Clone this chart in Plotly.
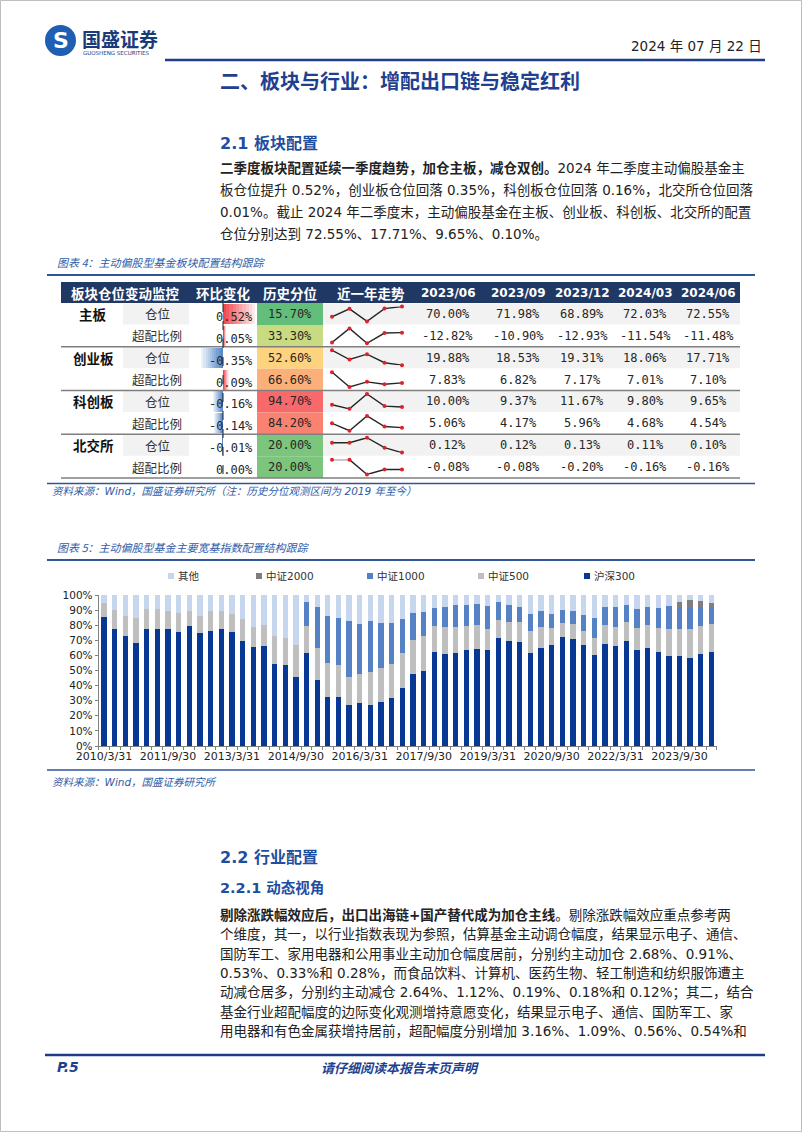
import plotly.graph_objects as go

W, H = 802, 1132
CJK = "Noto Sans CJK SC"
LAT = "DejaVu Sans, Noto Sans CJK SC"
MONO = "DejaVu Sans Mono, Noto Sans CJK SC"
NAVY = "#1F3C88"
BLUE = "#2E5CA8"
TXT = "#222222"

# ---------------- chart 5 data (quarterly, % of holdings) ----------------
quarters = [f"{y}/{md}" for y in range(2010, 2025) for md in ("3/31", "6/30", "9/30", "12/31")][:58]
tick_labels = ["2010/3/31", "2011/9/30", "2013/3/31", "2014/9/30", "2016/3/31",
               "2017/9/30", "2019/3/31", "2020/9/30", "2022/3/31", "2023/9/30"]
hs300 = [85.2, 77.3, 72.6, 68.4, 77.3, 77.7, 77.7, 75.5, 79.2, 75.1, 76.4, 77.7, 75.5, 69.8, 65.8, 66.0, 54.3, 53.4, 45.7,
         61.4, 43.9, 32.5, 32.5, 26.9, 28.5, 27.4, 29.1, 31.6, 38.4, 47.5, 49.7, 62.5, 60.9, 61.6, 63.4, 64.5, 63.4, 71.5, 69.5,
         68.9, 61.4, 64.7, 66.7, 72.0, 70.6, 66.7, 60.3, 67.3, 66.0, 69.5, 63.8, 65.1, 62.5, 59.4, 59.8, 58.3, 61.1, 62.3]
zz500 = [9.3, 12.7, 13.7, 16.1, 13.4, 13.0, 11.7, 12.4, 10.4, 11.2, 12.8, 11.5, 11.9, 14.3, 13.0, 14.4, 18.8, 17.9, 21.2,
         18.1, 21.2, 22.7, 20.9, 18.6, 19.0, 21.4, 22.3, 22.9, 23.2, 22.7, 23.4, 16.7, 17.7, 17.0, 16.1, 15.4, 14.3, 11.7, 12.6,
         13.0, 14.8, 14.3, 11.7, 9.7, 10.2, 9.5, 11.2, 12.6, 12.8, 12.4, 14.3, 15.3, 15.6, 17.9, 17.5, 19.0, 18.1, 18.7]
zz1000 = [0, 0, 0, 0, 0, 0, 0, 0, 0, 0, 0, 0, 0, 0, 0, 0, 0, 0, 0,
          15.6, 26.7, 30.9, 31.6, 37.3, 33.5, 34.0, 30.3, 27.2, 22.5, 18.1, 15.9, 12.2, 13.4, 15.0, 13.7, 14.1, 14.8, 11.9, 11.6,
          9.9, 11.2, 10.2, 9.0, 8.4, 8.4, 10.3, 13.3, 11.9, 13.0, 11.3, 12.8, 11.9, 13.1, 15.2, 14.3, 14.1, 12.6, 10.8]
zz2000 = [0, 0, 0, 0, 0, 0, 0, 0, 0, 0, 0, 0, 0, 0, 0, 0, 0, 0, 0,
          0, 0, 0, 0, 0, 0, 0, 0, 0, 0, 0, 0, 0, 0, 0, 0, 0, 0, 0, 0,
          0, 0, 0, 0, 0, 0, 0, 0, 0, 0, 0, 0, 0, 0, 0, 4.0, 5.3, 4.2, 3.1]
other = [5.5, 10.0, 13.7, 15.5, 9.3, 9.3, 10.6, 12.1, 10.4, 13.7, 10.8, 10.8, 12.6, 15.9, 21.2, 19.6, 26.9, 28.7, 33.1,
         4.9, 8.2, 13.9, 15.0, 17.2, 19.0, 17.2, 18.3, 18.3, 15.9, 11.7, 11.0, 8.6, 8.0, 6.4, 6.8, 6.0, 7.5, 4.9, 6.3,
         8.2, 12.6, 10.8, 12.6, 9.9, 10.8, 13.5, 15.2, 8.2, 8.2, 6.8, 9.1, 7.7, 8.8, 7.5, 4.4, 3.3, 4.0, 5.1]

# ---------------- table (chart 4) data ----------------
boards = ["主板", "创业板", "科创板", "北交所"]
metrics = ["仓位", "超配比例"]
periods = ["2023/06", "2023/09", "2023/12", "2024/03", "2024/06"]
qoq_change = [0.52, 0.05, -0.35, 0.09, -0.16, -0.14, -0.01, 0.00]
hist_pct = [15.70, 33.30, 52.60, 66.60, 94.70, 84.20, 20.00, 20.00]
row_values = [
    [70.00, 71.98, 68.89, 72.03, 72.55],
    [-12.82, -10.90, -12.93, -11.54, -11.48],
    [19.88, 18.53, 19.31, 18.06, 17.71],
    [7.83, 6.82, 7.17, 7.01, 7.10],
    [10.00, 9.37, 11.67, 9.80, 9.65],
    [5.06, 4.17, 5.96, 4.68, 4.54],
    [0.12, 0.12, 0.13, 0.11, 0.10],
    [-0.08, -0.08, -0.20, -0.16, -0.16],
]
pct_colors = ["#63BE7B", "#C8DB81", "#FED37F", "#FCB079", "#F8696B", "#F98370", "#7CC57C", "#7CC57C"]


def px(x):
    return x / W


def py(y):
    return 1 - y / H


shapes = []
annos = []


def rect(x0, y0, x1, y1, fill, layer="below", line_color=None, lw=0):
    shapes.append(dict(type="rect", xref="paper", yref="paper", x0=px(x0), x1=px(x1), y0=py(y1), y1=py(y0),
                       fillcolor=fill, line=dict(width=lw, color=line_color or fill), layer=layer))


def hline(x0, x1, y, color, width, layer="above"):
    shapes.append(dict(type="line", xref="paper", yref="paper", x0=px(x0), x1=px(x1), y0=py(y), y1=py(y),
                       line=dict(color=color, width=width), layer=layer))


def text(x, y, s, size, color=TXT, anchor="left", family=CJK):
    annos.append(dict(text=s, x=px(x), y=py(y), xref="paper", yref="paper", xanchor=anchor, yanchor="middle",
                      showarrow=False, font=dict(size=size, color=color, family=family)))


fig = go.Figure()

# ---------- main stacked bar chart ----------
xi = list(range(len(quarters)))
series = [("沪深300", hs300, "#083896"), ("中证500", zz500, "#BFBFBF"), ("中证1000", zz1000, "#5482C4"),
          ("中证2000", zz2000, "#7F7F7F"), ("其他", other, "#C6D6EE")]
for name, vals, col in series:
    fig.add_trace(go.Bar(x=xi, y=vals, name=name, width=0.5, marker=dict(color=col, line=dict(width=0)),
                         customdata=quarters, hovertemplate="%{customdata} " + name + ": %{y:.1f}%<extra></extra>",
                         showlegend=False, xaxis="x", yaxis="y"))

layout_axes = {}
layout_axes["xaxis"] = dict(domain=[px(98.7), px(716.8)], range=[-0.5, 57.5], anchor="y", automargin=False,
                            tickvals=[quarters.index(t) for t in tick_labels], ticktext=tick_labels,
                            ticks="", showline=True, linecolor="#808080", linewidth=1, showgrid=False, zeroline=False,
                            tickfont=dict(size=11, color=TXT, family=LAT),
                            minor=dict(ticks="outside", tick0=-0.5, dtick=1, ticklen=3, tickcolor="#808080",
                                       showgrid=False))
layout_axes["yaxis"] = dict(domain=[py(746), py(595)], range=[0, 100], dtick=10, ticksuffix="%", anchor="x",
                            automargin=False,
                            ticks="outside", ticklen=3, tickcolor="#808080", showline=True, linecolor="#808080",
                            linewidth=1, showgrid=False, zeroline=False,
                            tickfont=dict(size=10.5, color=TXT, family=LAT))

# ---------- table geometry ----------
T0, RH = 303.0, 21.875
TX0, TX1 = 61, 740
col_centers = [448, 518, 582, 645, 708]

# header
rect(TX0, 282, TX1, T0, "#1F3864")
text(125, 292.5, "<b>板块仓位变动监控</b>", 13.5, "white", "center")
text(223, 292.5, "<b>环比变化</b>", 13.5, "white", "center")
text(290, 292.5, "<b>历史分位</b>", 13.5, "white", "center")
text(371, 292.5, "<b>近一年走势</b>", 13.5, "white", "center")
for c, p in zip(col_centers, periods):
    text(c, 292.5, "<b>" + p + "</b>", 12, "white", "center", LAT)

for i in range(8):
    top = T0 + i * RH
    bot = top + RH
    cy = top + RH / 2
    if i % 2 == 0:
        rect(123, top + 0.5, 189, bot - 0.5, "#F2F2F2")
        rect(323, top + 0.5, TX1, bot - 0.5, "#F2F2F2")
        text(93, cy, "<b>" + boards[i // 2] + "</b>", 13.5, "#111111", "center")
    rect(257, top, 323, bot, pct_colors[i])
    text(157, cy, metrics[i % 2], 12.5, "#333333", "center")
    text(255, cy + 3, f"{qoq_change[i]:.2f}%", 12, "#262626", "right", MONO)
    text(290, cy, f"{hist_pct[i]:.2f}%", 12, "#262626", "center", MONO)
    for c, v in zip(col_centers, row_values[i]):
        text(c, cy, f"{v:.2f}%", 12, "#262626", "center", MONO)
    # sparkline subplot
    n = i + 2
    vals = row_values[i]
    fig.add_trace(go.Scatter(x=list(range(len(vals))), y=vals, mode="lines+markers", cliponaxis=False,
                             line=dict(color="#262626", width=1.4), marker=dict(color="#E0202A", size=4),
                             xaxis=f"x{n}", yaxis=f"y{n}", showlegend=False, hoverinfo="skip"))
    layout_axes[f"xaxis{n}"] = dict(domain=[px(332), px(402)], range=[0, 4], visible=False, anchor=f"y{n}",
                                    automargin=False)
    layout_axes[f"yaxis{n}"] = dict(domain=[py(bot - 3.5), py(top + 3.5)], range=[min(vals), max(vals)],
                                    visible=False, anchor=f"x{n}", automargin=False)

# group separators
for g in range(1, 5):
    hline(TX0, TX1, T0 + g * 2 * RH, "#7F7F7F", 1.5)

# gradient data bars for 环比变化
NS = 10
for k in range(NS):
    a = 1 - 0.88 * k / (NS - 1)
    cols = [f"rgba(242,72,78,{a:.2f})" if v >= 0 else f"rgba(88,136,200,{a:.2f})" for v in qoq_change]
    fig.add_trace(go.Bar(y=list(range(8)), x=[v / NS for v in qoq_change], orientation="h", width=0.92,
                         marker=dict(color=cols, line=dict(width=0)), xaxis="x10", yaxis="y10",
                         showlegend=False, hoverinfo="skip"))
layout_axes["xaxis10"] = dict(domain=[px(190), px(257)], range=[-33 / 62, 34 / 62], visible=False, anchor="y10",
                              automargin=False)
layout_axes["yaxis10"] = dict(domain=[py(478), py(T0)], range=[7.5, -0.5], visible=False, anchor="x10",
                              automargin=False)
shapes.append(dict(type="line", xref="x10", yref="paper", x0=0, x1=0, y0=py(T0), y1=py(478),
                   line=dict(color="#222222", width=1, dash="dash"), layer="above"))

# ---------- page furniture ----------
shapes.append(dict(type="rect", xref="paper", yref="paper", x0=px(0.5), x1=px(801.5), y0=py(1131.5), y1=py(0.5),
                   line=dict(color="#BDBDBD", width=1), fillcolor="rgba(0,0,0,0)", layer="below"))
# logo
shapes.append(dict(type="circle", xref="paper", yref="paper", x0=px(45), x1=px(76), y0=py(56), y1=py(25),
                   fillcolor="#1E5FB4", line=dict(width=0)))
text(60.5, 40, "<b>S</b>", 22, "white", "center", LAT)
text(80, 38, "<b>国盛证券</b>", 19, "#1B3A78")
text(81, 53, "GUOSHENG SECURITIES", 5.5, "#1B3A78", "left", LAT)
text(764, 46, "2024 年 07 月 22 日", 13.5, TXT, "right", LAT)
hline(165, 765, 60, NAVY, 2.5)
text(400, 80, "<b>二、板块与行业：增配出口链与稳定红利</b>", 20, "#1F3F8F", "center")

text(218, 143, "<b>2.1 板块配置</b>", 16, "#1F4E9F", "left", LAT)
para1 = [
    "<b>二季度板块配置延续一季度趋势，加仓主板，减仓双创。</b>2024 年二季度主动偏股基金主",
    "板仓位提升 0.52%，创业板仓位回落 0.35%，科创板仓位回落 0.16%，北交所仓位回落",
    "0.01%。截止 2024 年二季度末，主动偏股基金在主板、创业板、科创板、北交所的配置",
    "仓位分别达到 72.55%、17.71%、9.65%、0.10%。",
]
for j, s in enumerate(para1):
    text(218, 168 + 22 * j, s, 13.5, TXT, "left", LAT)

text(55, 262, "<i>图表 4：主动偏股型基金板块配置结构跟踪</i>", 11, BLUE)
hline(47, 755, 275, "#2F5597", 2)
hline(47, 755, 483.5, "#2F5597", 1.5)
text(50, 491, "<i>资料来源：Wind，国盛证券研究所（注：历史分位观测区间为 2019 年至今）</i>", 10.5, BLUE, "left", LAT)

text(55, 547, "<i>图表 5：主动偏股型基金主要宽基指数配置结构跟踪</i>", 11, BLUE)
hline(47, 755, 560, "#2F5597", 2)
# legend
legend_items = [("其他", "#C6D6EE", 171), ("中证2000", "#7F7F7F", 259), ("中证1000", "#5482C4", 370),
                ("中证500", "#BFBFBF", 481), ("沪深300", "#083896", 587)]
for name, col, lx in legend_items:
    rect(lx - 3, 573, lx + 3, 579, col, layer="above")
    text(lx + 5, 576, name, 10.5, "#333333", "left", LAT)
hline(47, 755, 770, "#2F5597", 1.5)
text(50, 782, "<i>资料来源：Wind，国盛证券研究所</i>", 10.5, BLUE, "left", LAT)

text(218, 857, "<b>2.2 行业配置</b>", 16, "#1F4E9F", "left", LAT)
text(218, 887, "<b>2.2.1 动态视角</b>", 14.5, "#1F4E9F", "left", LAT)
para2 = [
    "<b>剔除涨跌幅效应后，出口出海链+国产替代成为加仓主线</b>。剔除涨跌幅效应重点参考两",
    "个维度，其一，以行业指数表现为参照，估算基金主动调仓幅度，结果显示电子、通信、",
    "国防军工、家用电器和公用事业主动加仓幅度居前，分别约主动加仓 2.68%、0.91%、",
    "0.53%、0.33%和 0.28%，而食品饮料、计算机、医药生物、轻工制造和纺织服饰遭主",
    "动减仓居多，分别约主动减仓 2.64%、1.12%、0.19%、0.18%和 0.12%；其二，结合",
    "基金行业超配幅度的边际变化观测增持意愿变化，结果显示电子、通信、国防军工、家",
    "用电器和有色金属获增持居前，超配幅度分别增加 3.16%、1.09%、0.56%、0.54%和",
]
for j, s in enumerate(para2):
    text(218, 915 + 19.4 * j, s, 13.5, TXT, "left", LAT)

hline(45, 765, 1055, NAVY, 2.5)
text(55, 1067, "<b><i>P.5</i></b>", 14, "#1F3F8F", "left", LAT)
text(400, 1067, "<b><i>请仔细阅读本报告末页声明</i></b>", 13, "#1F3F8F", "center")

fig.update_layout(width=W, height=H, margin=dict(l=0, r=0, t=0, b=0, pad=0, autoexpand=False),
                  paper_bgcolor="white",
                  plot_bgcolor="rgba(0,0,0,0)", barmode="stack", showlegend=False,
                  shapes=shapes, annotations=annos, font=dict(family=CJK), **layout_axes)

fig.write_html("out.html", config={"displayModeBar": False},
               post_script="document.body.style.margin='0';document.body.style.padding='0';"
                           "document.body.style.overflow='hidden';")
